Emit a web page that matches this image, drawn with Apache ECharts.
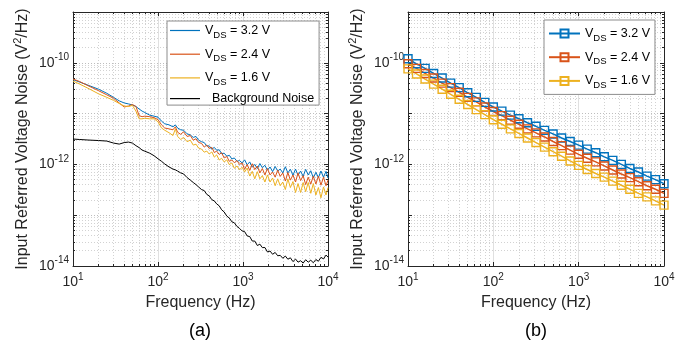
<!DOCTYPE html>
<html><head><meta charset="utf-8">
<script src="https://cdn.jsdelivr.net/npm/echarts@6/dist/echarts.min.js"></script>
<style>html,body{margin:0;padding:0;background:#fff}#c{width:689px;height:347px}</style>
</head><body><div id="c"></div>
<script>
// ---------- Panel (a): measured spectra ----------
const freqA = [10,12,15,20,25,30,35,40,45,50,55,60,65,70,80,90,100,110,120,135,150,160,170,185,200,220,240,260,280,300,325,
  350,375,400,430,460,490,525,560,600,645,690,740,790,850,910,975,1045,1120,1200,1285,1375,1475,1580,1690,1810,1940,2080,2230,2390,2560,
  2740,2940,3150,3370,3610,3870,4150,4440,4760,5100,5460,5850,6270,6720,7200,7710,8260,8850,9480,10000];
const vds32A = [4.68e-11,4.17e-11,3.63e-11,3.02e-11,2.51e-11,2.09e-11,1.78e-11,1.62e-11,1.55e-11,1.48e-11,1.38e-11,1.23e-11,1.12e-11,1.05e-11,9.3e-12,8.9e-12,8.5e-12,7.1e-12,6.3e-12,6.0e-12,5.5e-12,6.0e-12,5.2e-12,4.8e-12,4.7e-12,4.0e-12,3.8e-12,3.4e-12,3.55e-12,3.0e-12,2.8e-12,
  2.69e-12,2.29e-12,2.32e-12,2.00e-12,2.16e-12,1.90e-12,1.94e-12,1.63e-12,1.66e-12,1.45e-12,1.51e-12,1.28e-12,1.34e-12,1.15e-12,1.19e-12,1.07e-12,1.23e-12,9.8e-13,1.12e-12,8.8e-13,
  1.00e-12,8.3e-13,1.04e-12,8.6e-13,9.6e-13,7.7e-13,8.9e-13,7.2e-13,9.1e-13,7.4e-13,8.1e-13,6.8e-13,9.0e-13,6.8e-13,8.0e-13,6.1e-13,8.1e-13,6.1e-13,7.4e-13,5.8e-13,
  8.0e-13,6.2e-13,7.5e-13,5.4e-13,7.0e-13,5.5e-13,7.4e-13,5.6e-13,7.3e-13,5.4e-13];
const vds24A = [4.79e-11,4.27e-11,3.55e-11,2.82e-11,2.34e-11,2.00e-11,1.62e-11,1.35e-11,1.41e-11,1.51e-11,1.38e-11,9.1e-12,8.7e-12,8.9e-12,8.7e-12,8.3e-12,7.6e-12,6.0e-12,5.2e-12,5.0e-12,4.8e-12,5.5e-12,4.3e-12,3.9e-12,4.4e-12,3.55e-12,3.7e-12,3.0e-12,3.2e-12,2.7e-12,2.6e-12,
  2.19e-12,2.41e-12,2.06e-12,2.17e-12,1.71e-12,1.83e-12,1.57e-12,1.70e-12,1.34e-12,1.43e-12,1.15e-12,1.22e-12,1.08e-12,1.19e-12,1.00e-12,1.07e-12,8.0e-13,1.00e-12,7.6e-13,1.03e-12,
  7.9e-13,9.3e-13,6.8e-13,8.3e-13,6.2e-13,8.3e-13,6.2e-13,7.1e-13,5.6e-13,7.7e-13,5.8e-13,6.8e-13,4.7e-13,6.9e-13,4.9e-13,6.2e-13,4.5e-13,6.8e-13,4.8e-13,6.0e-13,
  4.0e-13,5.6e-13,4.1e-13,5.9e-13,4.1e-13,5.9e-13,3.9e-13,5.6e-13,3.8e-13,4.9e-13];
const vds16A = [4.37e-11,3.80e-11,3.16e-11,2.45e-11,2.09e-11,1.82e-11,1.58e-11,1.41e-11,1.38e-11,1.45e-11,1.12e-11,7.9e-12,7.9e-12,8.1e-12,7.9e-12,7.9e-12,6.9e-12,5.2e-12,4.7e-12,4.2e-12,3.7e-12,5.0e-12,3.55e-12,3.1e-12,3.4e-12,2.8e-12,3.0e-12,2.4e-12,2.5e-12,2.1e-12,2.0e-12,
  1.74e-12,1.83e-12,1.60e-12,1.76e-12,1.39e-12,1.54e-12,1.22e-12,1.32e-12,1.12e-12,1.23e-12,9.9e-13,1.07e-12,8.4e-13,9.3e-13,7.8e-13,8.8e-13,7.1e-13,8.5e-13,5.9e-13,7.3e-13,
  5.2e-13,7.2e-13,5.2e-13,6.0e-13,4.5e-13,6.2e-13,4.5e-13,5.4e-13,3.8e-13,5.2e-13,3.8e-13,4.5e-13,3.2e-13,5.2e-13,3.5e-13,4.6e-13,2.8e-13,4.2e-13,2.8e-13,4.4e-13,
  2.9e-13,4.4e-13,2.7e-13,4.2e-13,2.5e-13,3.5e-13,2.2e-13,3.6e-13,2.5e-13,3.5e-13];
const backgroundA = [3.16e-12,3.09e-12,3.02e-12,2.95e-12,2.88e-12,2.63e-12,2.51e-12,2.69e-12,2.75e-12,2.63e-12,2.34e-12,2.14e-12,1.91e-12,1.82e-12,1.66e-12,1.48e-12,1.29e-12,1.15e-12,1.02e-12,8.9e-13,8.1e-13,7.8e-13,7.4e-13,6.8e-13,6.5e-13,5.5e-13,4.9e-13,4.4e-13,4.0e-13,3.6e-13,3.2e-13,
  3.05e-13,2.57e-13,2.40e-13,2.02e-13,1.91e-13,1.67e-13,1.53e-13,1.28e-13,1.16e-13,9.6e-14,8.8e-14,7.4e-14,7.1e-14,6.0e-14,5.5e-14,4.9e-14,4.75e-14,3.9e-14,3.8e-14,3.1e-14,
  3.1e-14,2.53e-14,2.69e-14,2.30e-14,2.31e-14,1.89e-14,1.97e-14,1.70e-14,1.85e-14,1.59e-14,1.62e-14,1.42e-14,1.57e-14,1.36e-14,1.45e-14,1.22e-14,1.37e-14,1.19e-14,1.27e-14,1.14e-14,
  1.33e-14,1.19e-14,1.30e-14,1.16e-14,1.34e-14,1.24e-14,1.48e-14,1.38e-14,1.64e-14,1.50e-14];

// ---------- Panel (b): model ----------
const freqB = [10,12.59,15.85,19.95,25.12,31.62,39.81,50.12,63.1,79.43,100,125.9,158.5,199.5,251.2,316.2,398.1,501.2,631,794.3,1000,1259,1585,1995,2512,3162,3981,5012,6310,7943,10000];
const vds32B = [1.20e-10,9.55e-11,7.76e-11,6.17e-11,5.01e-11,3.98e-11,3.24e-11,2.57e-11,2.09e-11,1.66e-11,1.35e-11,1.12e-11,9.33e-12,7.94e-12,6.61e-12,5.62e-12,4.68e-12,3.98e-12,3.31e-12,2.82e-12,2.40e-12,2.00e-12,1.70e-12,1.41e-12,1.20e-12,1.00e-12,8.32e-13,7.08e-13,5.89e-13,5.01e-13,4.17e-13];
const vds24B = [9.55e-11,7.76e-11,6.17e-11,5.01e-11,3.98e-11,3.24e-11,2.63e-11,2.09e-11,1.70e-11,1.35e-11,1.10e-11,9.12e-12,7.41e-12,6.17e-12,5.01e-12,4.17e-12,3.47e-12,2.82e-12,2.34e-12,1.91e-12,1.58e-12,1.32e-12,1.12e-12,9.33e-13,7.76e-13,6.46e-13,5.50e-13,4.57e-13,3.80e-13,3.24e-13,2.69e-13];
const vds16B = [7.59e-11,6.03e-11,4.79e-11,3.80e-11,3.02e-11,2.40e-11,1.91e-11,1.51e-11,1.20e-11,9.55e-12,7.59e-12,6.17e-12,5.01e-12,4.07e-12,3.31e-12,2.69e-12,2.19e-12,1.78e-12,1.45e-12,1.17e-12,9.55e-13,7.94e-13,6.61e-13,5.62e-13,4.68e-13,3.89e-13,3.24e-13,2.69e-13,2.29e-13,1.91e-13,1.58e-13];

// ---------- Axis ranges / labels ----------
const xRange = [10, 10000];
const yRange = [1e-14, 1e-9];
const yMajor = [1e-12, 1e-10];
const legendLabels = {
  a1: '{v|V}{s|DS}{v| = 3.2 V}', a2: '{v|V}{s|DS}{v| = 2.4 V}', a3: '{v|V}{s|DS}{v| = 1.6 V}', bg: '{v|  Background Noise}',
  b1: '{v|V}{s|DS}{v| = 3.2 V}', b2: '{v|V}{s|DS}{v| = 2.4 V}', b3: '{v|V}{s|DS}{v| = 1.6 V}'
};
const panelTitles = ['(a)', '(b)'];

const FONT = '"Liberation Sans", Arial, Helvetica, sans-serif';
const AX = '#262626';
const C = ['#0072BD', '#D95319', '#EDB120', '#000000'];

const labRich = {
  b: {fontSize: 14, fontFamily: FONT, color: AX},
  e: {fontSize: 10, fontFamily: FONT, color: AX, padding: [0, 0, 11, 0]}
};
function expOf(v) { return Math.round(Math.log(v) / Math.LN10); }

function xAxes(g) {
  const common = {type: 'log', gridIndex: g, min: xRange[0], max: xRange[1], splitNumber: 3};
  return [{
    ...common, position: 'bottom',
    axisLine: {show: true, onZero: false, lineStyle: {color: AX, width: 1}},
    axisTick: {show: true, inside: true, length: 4, lineStyle: {color: AX}},
    minorTick: {show: true, splitNumber: 9, length: 2, lineStyle: {color: AX}},
    axisLabel: {margin: 6, formatter: v => '{b|10}{e|' + expOf(v) + '}', rich: labRich},
    splitLine: {show: true, lineStyle: {color: '#e0e0e0', width: 1}},
    minorSplitLine: {show: true, lineStyle: {color: '#d2d2d2', width: 1, type: [1, 2]}},
    name: 'Frequency (Hz)', nameLocation: 'middle', nameGap: 28,
    nameTextStyle: {fontSize: 16, fontFamily: FONT, color: AX}
  }, {
    ...common, position: 'top',
    axisLine: {show: true, onZero: false, lineStyle: {color: AX, width: 1}},
    axisTick: {show: true, inside: true, length: 4, lineStyle: {color: AX}},
    minorTick: {show: true, splitNumber: 9, length: 2, lineStyle: {color: AX}},
    axisLabel: {show: false}, splitLine: {show: false}
  }];
}
function yAxes(g) {
  const common = {type: 'log', gridIndex: g, min: yRange[0], max: yRange[1], splitNumber: 5};
  return [{
    ...common, position: 'left',
    axisLine: {show: true, onZero: false, lineStyle: {color: AX, width: 1}},
    axisTick: {show: true, inside: true, length: 4, lineStyle: {color: AX}},
    minorTick: {show: true, splitNumber: 9, length: 2, lineStyle: {color: AX}},
    axisLabel: {margin: 4, formatter: v => { const e = expOf(v); return (e % 2 === 0) ? '{b|10}{e|' + e + '}' : ''; }, rich: labRich},
    splitLine: {show: true, lineStyle: {color: '#bdbdbd', width: 1, type: [1, 2]}},
    minorSplitLine: {show: true, lineStyle: {color: '#d2d2d2', width: 1, type: [1, 2]}},
    name: '{n|Input Referred Voltage Noise (V}{p|2}{n|/Hz)}', nameLocation: 'middle', nameGap: 40,
    nameTextStyle: {rich: {
      n: {fontSize: 16, fontFamily: FONT, color: AX},
      p: {fontSize: 11, fontFamily: FONT, color: AX, padding: [0, 0, 10, 0]}
    }}
  }, {
    ...common, position: 'right',
    axisLine: {show: true, onZero: false, lineStyle: {color: AX, width: 1}},
    axisTick: {show: true, inside: true, length: 4, lineStyle: {color: AX}},
    minorTick: {show: true, splitNumber: 9, length: 2, lineStyle: {color: AX}},
    axisLabel: {show: false}, splitLine: {show: false}
  }];
}
const majorLines = () => ({
  silent: true, symbol: 'none', z: 1, animation: false,
  label: {show: false}, emphasis: {disabled: true},
  lineStyle: {color: '#e0e0e0', type: 'solid', width: 1},
  data: yMajor.map(v => ({yAxis: v}))
});

function lineA(name, arr, color, extra) {
  return Object.assign({
    name, type: 'line', xAxisIndex: 0, yAxisIndex: 0,
    data: freqA.map((f, i) => [f, arr[i]]),
    showSymbol: false, symbol: 'none', smooth: false,
    lineStyle: {color, width: 1}, itemStyle: {color},
    emphasis: {disabled: true}, z: 3
  }, extra || {});
}
function lineB(name, arr, color) {
  return {
    name, type: 'line', xAxisIndex: 2, yAxisIndex: 2,
    data: freqB.map((f, i) => [f, arr[i]]),
    symbol: 'rect', symbolSize: 8, showAllSymbol: true,
    lineStyle: {color, width: 1.5},
    itemStyle: {color: 'rgba(255,255,255,0)', borderColor: color, borderWidth: 1.4},
    emphasis: {disabled: true}, z: 3
  };
}

const legendRich = {
  v: {fontSize: 12.5, fontFamily: FONT, color: '#000', lineHeight: 18},
  s: {fontSize: 9.5, fontFamily: FONT, color: '#000', lineHeight: 18, padding: [9, 0, 0, 0]}
};

const chart = echarts.init(document.getElementById('c'), null, {renderer: 'canvas'});
chart.setOption({
  animation: false,
  backgroundColor: '#ffffff',
  grid: [
    {left: 73, top: 12, width: 255, height: 254, containLabel: false},
    {left: 408, top: 12, width: 256, height: 254, containLabel: false}
  ],
  xAxis: [...xAxes(0), ...xAxes(1)],
  yAxis: [...yAxes(0), ...yAxes(1)],
  legend: [{
    data: ['a1', 'a2', 'a3', 'bg'], orient: 'vertical', left: 167, top: 21,
    icon: 'rect', itemWidth: 30, itemHeight: 1.2, itemGap: 4.7,
    padding: [0, 5, 0, 3], backgroundColor: '#fff', borderColor: '#8c8c8c', borderWidth: 1,
    selectedMode: false, formatter: n => legendLabels[n],
    textStyle: {rich: legendRich}
  }, {
    data: ['b1', 'b2', 'b3'], orient: 'vertical', left: 544, top: 20,
    itemWidth: 31, itemHeight: 10, itemGap: 4.7,
    padding: [4, 5, 4, 4], backgroundColor: '#fff', borderColor: '#8c8c8c', borderWidth: 1,
    selectedMode: false, formatter: n => legendLabels[n],
    textStyle: {rich: legendRich}
  }],
  graphic: panelTitles.map((t, i) => ({
    type: 'text', x: i === 0 ? 200 : 536, y: 331,
    style: {text: t, fontSize: 18, fontFamily: FONT, fill: '#000',
      align: 'center', verticalAlign: 'middle', textAlign: 'center', textVerticalAlign: 'middle'}
  })),
  series: [
    lineA('a1', vds32A, C[0], {markLine: majorLines()}),
    lineA('a2', vds24A, C[1]),
    lineA('a3', vds16A, C[2]),
    lineA('bg', backgroundA, C[3]),
    Object.assign(lineB('b1', vds32B, C[0]), {markLine: majorLines()}),
    lineB('b2', vds24B, C[1]),
    lineB('b3', vds16B, C[2])
  ]
});
</script>
</body></html>
